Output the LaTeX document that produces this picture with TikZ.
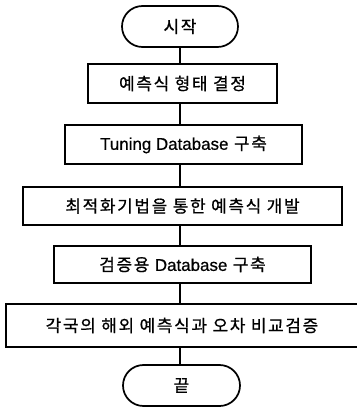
\documentclass[tikz,border=0pt]{standalone}
\usepackage{fontspec}
\newfontfamily\kr[LetterSpace=10,FakeBold=0.8]{Noto Sans CJK KR}
\newfontfamily\lat[FakeBold=0.6]{Liberation Sans}
\newcommand{\en}[1]{{\lat #1}}
\usetikzlibrary{shapes.misc}

\tikzset{every picture/.style={line width=0.75pt}}
\tikzset{
  stepbox/.style={draw, line width=1.3pt, rectangle, inner sep=0pt, font=\kr\fontsize{12.7}{15}\selectfont},
  termbox/.style={draw, line width=1.3pt, rounded rectangle, inner sep=0pt, minimum width=87pt, minimum height=30.75pt, font=\kr\fontsize{12.7}{15}\selectfont},
  link/.style={line width=1.3pt}
}

\begin{document}
\begin{tikzpicture}[x=0.75pt,y=0.75pt,yscale=-1,xscale=1]
\useasboundingbox (0,0) rectangle (357,408);

%Shape: Terminal [id:start]
\node [termbox] (start) at (180,26.5) {시작};
%Shape: Rectangle [id:form]
\node [stepbox, minimum width=141.75pt, minimum height=29.25pt] (form) at (182.5,83.5) {예측식 형태 결정};
%Shape: Rectangle [id:tuning]
\node [stepbox, minimum width=177.75pt, minimum height=29.25pt] (tuning) at (183.5,144.5) {\en{Tuning Database} 구축};
%Shape: Rectangle [id:optim]
\node [stepbox, minimum width=239.25pt, minimum height=28.5pt] (optim) at (182.5,206) {최적화기법을 통한 예측식 개발};
%Shape: Rectangle [id:verify]
\node [stepbox, minimum width=192.75pt, minimum height=27.75pt] (verify) at (182.5,264.5) {검증용 \en{Database} 구축};
%Shape: Rectangle [id:compare]
\node [stepbox, minimum width=264pt, minimum height=32.25pt] (compare) at (182,325.5) {각국의 해외 예측식과 오차 비교검증};
%Shape: Terminal [id:finish]
\node [termbox, minimum width=87.75pt] (finish) at (181.5,385.5) {끝};

%Straight Lines
\draw [link] (start.south) -- (start.south |- form.north);
\draw [link] (start.south |- form.south) -- (start.south |- tuning.north);
\draw [link] (start.south |- tuning.south) -- (start.south |- optim.north);
\draw [link] (start.south |- optim.south) -- (start.south |- verify.north);
\draw [link] (start.south |- verify.south) -- (start.south |- compare.north);
\draw [link] (start.south |- compare.south) -- (start.south |- finish.north);

\end{tikzpicture}
\end{document}
